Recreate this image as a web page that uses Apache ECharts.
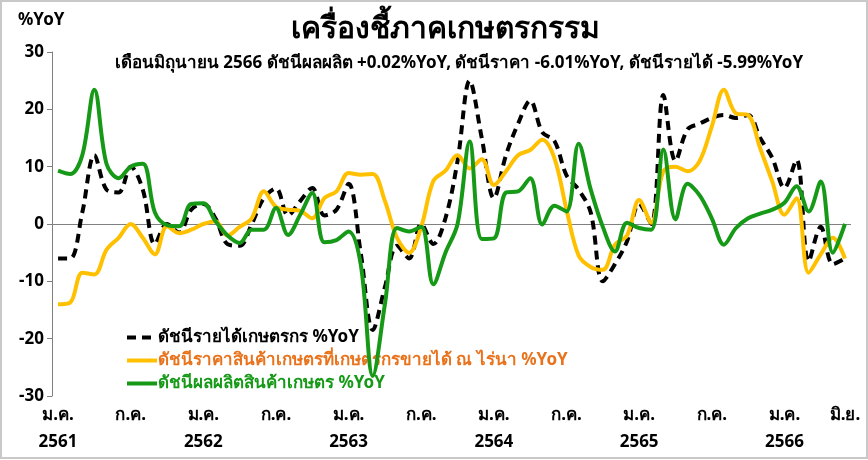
<!DOCTYPE html>
<html>
<head>
<meta charset="utf-8">
<script src="https://cdn.jsdelivr.net/npm/echarts@6/dist/echarts.min.js"></script>
<style>
  html, body { margin: 0; padding: 0; background: #fff; }
  #main { width: 868px; height: 460px; }
</style>
</head>
<body>
<div id="main"></div>
<script>
// เดือน ม.ค. 2561 - มิ.ย. 2566
var monthNames = ['ม.ค.', 'ก.พ.', 'มี.ค.', 'เม.ย.', 'พ.ค.', 'มิ.ย.', 'ก.ค.', 'ส.ค.', 'ก.ย.', 'ต.ค.', 'พ.ย.', 'ธ.ค.'];
var years = [2561, 2562, 2563, 2564, 2565, 2566];
var lastMonthCount = 6;

// ดัชนีรายได้เกษตรกร %YoY
var incomeYoY = [
  -6, -6, 2, 12, 6, 5.5, 10, 6, -3.5, 0, -1.5, 2.5,
  3.5, 1, -3.5, -3.8, 0, 4.5, 6.2, 1.5, 4, 6.3, 1.5, 2.5,
  7, -5, -18.5, -11, -3.8, -6, 0, -3.5, 1, 11, 25, 15,
  4.5, 12, 17.5, 21.5, 16, 14.5, 8.5, 6, 2, -10, -7, -3,
  3.5, 0, 22.5, 11, 16.5, 17.5, 18.5, 19, 18.5, 19, 15, 11.5,
  6.3, 11.2, -6.5, -0.5, -7, -5.99
];
// ดัชนีราคาสินค้าเกษตรที่เกษตรกรขายได้ ณ ไร่นา %YoY
var priceYoY = [
  -14, -13.7, -8.5, -8.8, -4.5, -2.4, 0, -2.4, -5.3, -0.4, -1.6, -1,
  0, 0.5, -2, -0.5, 1, 5.7, 3, 2.5, 2.3, 1, 4.5, 5.7,
  8.9, 8.6, 8.7, 4, -2.4, -5, -0.5, 7.5, 9.3, 12, 9.7, 11.3,
  6.8, 9.2, 12, 12.9, 14.7, 11.5, 2.5, -5.5, -7.5, -8, -3.6, -2,
  4.2, 0.2, 9.2, 10, 9.2, 11, 17, 23.4, 19.3, 19, 13.2, 7.4,
  1.6, 4.5, -8.5, -5.3, -2.4, -6.01
];
// ดัชนีผลผลิตสินค้าเกษตร %YoY
var outputYoY = [
  9.3, 8.7, 12, 23.4, 10.5, 8, 10, 10.5, 2, -0.2, -0.4, 3.5,
  3.6, 0.5, -2, -3.3, -1, -1, 2.8, -1.9, 1.6, 5.4, -3.2, -2.8,
  -1.3, -7, -26.5, -14, -0.7, -1.3, -0.5, -10.5, -5, 0, 14.4, -2.6,
  -2.5, 5.5, 5.7, 8, -0.1, 3.2, 2.2, 14, 6, -0.5, -4.8, 0.2,
  -0.7, -1, 13, 0.8, 7, 5, 1, -3.6, -0.7, 1, 1.8, 2.5,
  3.7, 6.6, 2.2, 7.4, -5, 0.02
];

var seriesNames = [
  'ดัชนีรายได้เกษตรกร %YoY',
  'ดัชนีราคาสินค้าเกษตรที่เกษตรกรขายได้ ณ ไร่นา %YoY',
  'ดัชนีผลผลิตสินค้าเกษตร %YoY'
];
var yTicks = { min: -30, max: 30, step: 10 };

var categories = [];
years.forEach(function (y, yi) {
  var n = yi === years.length - 1 ? lastMonthCount : 12;
  for (var m = 0; m < n; m++) {
    categories.push(monthNames[m] + ' ' + y);
  }
});

var font = 'Tahoma, "Noto Sans", "DejaVu Sans", sans-serif';

var myChart = echarts.init(document.getElementById('main'));

var option = {
  backgroundColor: '#fff',
  animation: false,
  textStyle: { fontFamily: font },
  title: [
    {
      text: 'เครื่องชี้ภาคเกษตรกรรม',
      left: 440, top: 9, textAlign: 'center',
      textStyle: { fontSize: 30, fontWeight: 'bold', color: '#000', fontFamily: font }
    },
    {
      text: 'เดือนมิถุนายน 2566 ดัชนีผลผลิต +0.02%YoY, ดัชนีราคา -6.01%YoY, ดัชนีรายได้ -5.99%YoY',
      left: 454, top: 50, textAlign: 'center',
      textStyle: { fontSize: 17, fontWeight: 'bold', color: '#000', fontFamily: font }
    },
    {
      text: '%YoY',
      left: 13, top: 7,
      textStyle: { fontSize: 17, fontWeight: 'bold', color: '#000', fontFamily: font }
    }
  ],
  legend: {
    orient: 'vertical',
    left: 120, top: 324,
    z: 1,
    itemWidth: 30, itemHeight: 12, itemGap: 6,
    itemStyle: { opacity: 0 },
    lineStyle: { width: 4 },
    data: [
      { name: seriesNames[0], textStyle: { color: '#000' } },
      { name: seriesNames[1], textStyle: { color: '#E8731C' } },
      { name: seriesNames[2], textStyle: { color: '#169916' } }
    ],
    textStyle: { fontSize: 17, fontWeight: 'bold', fontFamily: font, padding: [0, 0, 0, -4] }
  },
  grid: { left: 52, right: 17, top: 52, bottom: 64 },
  xAxis: {
    type: 'category',
    data: categories,
    boundaryGap: true,
    axisLine: { show: false },
    axisTick: { show: false },
    axisLabel: {
      interval: function (index) { return index % 6 === 0 || index === categories.length - 1; },
      formatter: function (value) {
        var parts = value.split(' ');
        return parts[0] === 'ม.ค.' ? parts[0] + '\n' + parts[1] : parts[0];
      },
      color: '#000', fontSize: 17, fontWeight: 'bold', lineHeight: 27, margin: 6,
      fontFamily: font
    }
  },
  yAxis: {
    type: 'value',
    min: yTicks.min, max: yTicks.max, interval: yTicks.step,
    axisLine: { show: true, lineStyle: { color: '#7f7f7f', width: 1 } },
    axisTick: { show: true, length: 5, lineStyle: { color: '#7f7f7f' } },
    splitLine: { show: false },
    axisLabel: { color: '#000', fontSize: 17, fontWeight: 'bold', margin: 8, fontFamily: font }
  },
  series: [
    {
      name: seriesNames[0], type: 'line', data: incomeYoY, z: 3,
      smooth: 0.35, symbol: 'none',
      lineStyle: { color: '#000', width: 4, type: [9, 6] },
      itemStyle: { color: '#000' }
    },
    {
      name: seriesNames[1], type: 'line', data: priceYoY, z: 3,
      smooth: 0.35, symbol: 'none',
      lineStyle: { color: '#FFC000', width: 4 },
      itemStyle: { color: '#FFC000' }
    },
    {
      name: seriesNames[2], type: 'line', data: outputYoY, z: 3,
      smooth: 0.35, symbol: 'none',
      lineStyle: { color: '#169916', width: 4 },
      itemStyle: { color: '#169916' },
      markLine: {
        silent: true, symbol: 'none', label: { show: false },
        lineStyle: { color: '#808080', width: 1, type: 'solid' },
        data: [{ yAxis: 0 }],
        z: 1
      }
    }
  ],
  graphic: [
    {
      type: 'rect', silent: true,
      shape: { x: 1, y: 1, width: 866, height: 457 },
      style: { fill: 'none', stroke: '#c8c8c8', lineWidth: 2 }
    }
  ]
};

myChart.setOption(option);
</script>
</body>
</html>
